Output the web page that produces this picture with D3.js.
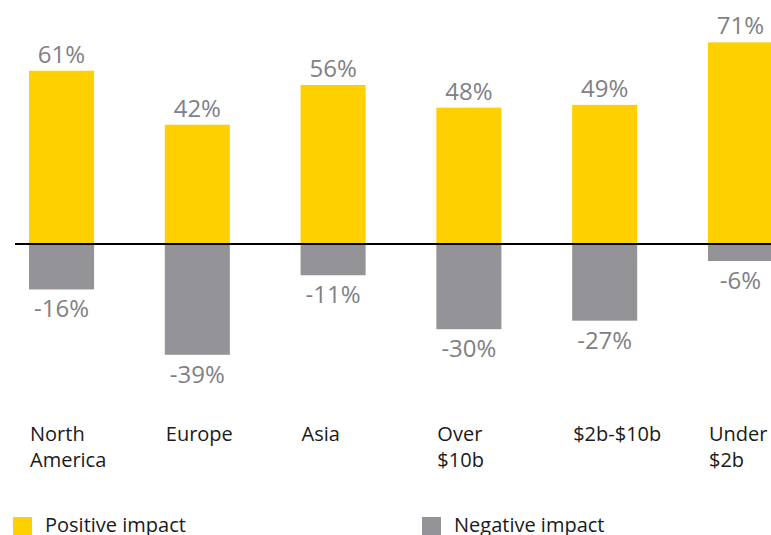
<!DOCTYPE html>
<html>
<head>
<meta charset="utf-8">
<script src="https://cdn.jsdelivr.net/npm/d3@7"></script>
<style>
  body { margin: 0; background: #fff; }
  svg { display: block; }
</style>
</head>
<body>
<script>
// Data
const categories = [["North", "America"], ["Europe"], ["Asia"], ["Over", "$10b"], ["$2b-$10b"], ["Under", "$2b"]];
const positive = [61, 42, 56, 48, 49, 71];
const negative = [-16, -39, -11, -30, -27, -6];
const legendLabels = ["Positive impact", "Negative impact"];

const W = 771, H = 535;
const yellow = "#ffd000", grey = "#939398", labelGrey = "#808085";

const svg = d3.select("body").append("svg")
  .attr("width", W)
  .attr("height", H)
  .style("font-family", "'Open Sans', sans-serif");

const keys = categories.map((c) => c.join(" "));

// Scales
const x = d3.scaleBand().domain(keys).range([29, 773]).paddingInner(0.521).paddingOuter(0);
const y = d3.scaleLinear().domain([-100, 100]).range([528, -40]);

// positive bars
svg.append("g").selectAll("rect")
  .data(positive)
  .join("rect")
  .attr("x", (d, i) => x(keys[i]))
  .attr("width", x.bandwidth())
  .attr("y", (d) => y(d))
  .attr("height", (d) => y(0) - y(d))
  .attr("fill", yellow);

// negative bars
svg.append("g").selectAll("rect")
  .data(negative)
  .join("rect")
  .attr("x", (d, i) => x(keys[i]))
  .attr("width", x.bandwidth())
  .attr("y", y(0))
  .attr("height", (d) => y(d) - y(0))
  .attr("fill", grey);

// zero line
svg.append("line")
  .attr("x1", 15).attr("x2", W)
  .attr("y1", y(0)).attr("y2", y(0))
  .attr("stroke", "#000")
  .attr("stroke-width", 2);

// value labels
svg.append("g").selectAll("text")
  .data(positive)
  .join("text")
  .attr("x", (d, i) => x(keys[i]) + x.bandwidth() / 2)
  .attr("y", (d) => y(d) - 8)
  .attr("text-anchor", "middle")
  .attr("font-size", 24)
  .attr("fill", labelGrey)
  .text((d) => d + "%");

svg.append("g").selectAll("text")
  .data(negative)
  .join("text")
  .attr("x", (d, i) => x(keys[i]) + x.bandwidth() / 2)
  .attr("y", (d) => y(d) + 28)
  .attr("text-anchor", "middle")
  .attr("font-size", 24)
  .attr("fill", labelGrey)
  .text((d) => d + "%");

// category labels
const cat = svg.append("g").selectAll("text")
  .data(categories)
  .join("text")
  .attr("x", (d, i) => x(keys[i]) + 1)
  .attr("y", 441)
  .attr("font-size", 20)
  .attr("fill", "#1a1a1a");
cat.selectAll("tspan")
  .data((d) => d)
  .join("tspan")
  .attr("x", function () { return d3.select(this.parentNode).attr("x"); })
  .attr("dy", (d, i) => (i === 0 ? 0 : 26))
  .text((d) => d);

// legend
const legendX = [13, 422];
const legendColors = [yellow, grey];
const lg = svg.append("g").selectAll("g")
  .data(legendLabels)
  .join("g")
  .attr("transform", (d, i) => `translate(${legendX[i]},517)`);
lg.append("rect")
  .attr("width", 19).attr("height", 19)
  .attr("fill", (d, i) => legendColors[i]);
lg.append("text")
  .attr("x", 32).attr("y", 15)
  .attr("font-size", 20)
  .attr("fill", "#1a1a1a")
  .text((d) => d);
</script>
</body>
</html>
